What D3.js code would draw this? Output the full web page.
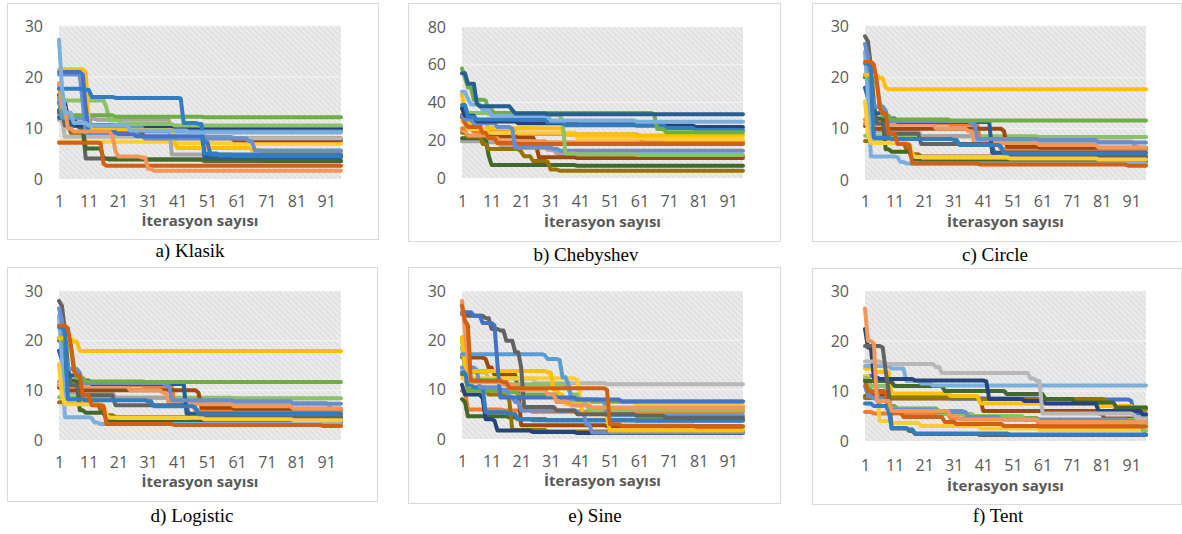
<!DOCTYPE html>
<html>
<head>
<meta charset="utf-8">
<script src="https://cdn.jsdelivr.net/npm/d3@7"></script>
<style>
  html, body { margin: 0; padding: 0; background: #ffffff; }
  svg { display: block; }
</style>
</head>
<body>
<svg id="chart" width="1182" height="534"></svg>
<script>
// ---------------- DATA ----------------
const iterations = d3.range(1, 97);            // iterations 1..96
const xTickLabels = [1, 11, 21, 31, 41, 51, 61, 71, 81, 91];
const yTicksSmall = [0, 10, 20, 30];
const yTicksCheb = [0, 20, 40, 60, 80];
const captions = ["a) Klasik", "b) Chebyshev", "c) Circle", "d) Logistic", "e) Sine", "f) Tent"];
const xTitle = "İterasyon sayısı";

// Each series: list of [iteration, best value from that iteration on]
const klasikSeries = [
  [[1,7.3],[40,7],[60,6.9]],
  [[1,13.5],[3,11],[5,9],[10,8.5],[30,8.2],[60,8]],
  [[1,15],[2,13],[3,10.5],[10,9],[30,8],[60,7.6]],
  [[1,12.5],[3,11.8],[14,11.6],[39,4.8],[60,4.5]],
  [[1,11.5],[3,8.3],[30,8]],
  [[1,13],[3,10.5],[8,10],[10,4],[30,3.8],[50,3.5]],
  [[1,13.5],[4,11],[9,10],[10,6],[16,4],[18,3.8],[70,3.6]],
  [[1,12],[5,10.5],[25,9.8],[48,9.5],[50,4.3]],
  [[1,16.5],[2,15],[4,12],[7,10.5],[20,10.2],[40,9.9]],
  [[1,16],[2,12],[12,10],[30,9.3]],
  [[1,18],[2,16],[3,15.4],[17,14],[18,11.5],[22,10.8],[40,10.5]],
  [[1,18.5],[2,14],[3,12.5],[20,12.2],[50,12.1]],
  [[1,21.5],[10,21],[11,11],[12,9.6],[40,7],[41,6.1],[66,5.7],[70,5.2]],
  [[1,20.5],[8,20.3],[9,15],[10,9],[28,8.5],[30,8],[65,7.4],[67,5.6]],
  [[1,21],[9,20.5],[10,14],[11,9.2],[21,8.8],[27,8.4],[50,7.2],[52,4.8]],
  [[1,7.1],[15,7],[16,3],[17,2.6]],
  [[1,18.8],[2,14],[4,9.9],[6,9.3],[19,8.5],[20,5.5],[21,4.4],[29,4.2],[31,2],[33,1.6]],
  [[1,17.7],[10,17.5],[12,16.1],[20,15.9],[42,15.8],[43,11],[48,10.8],[50,5],[55,4.6],[60,4.5]],
  [[1,27.3],[2,18],[3,13],[6,11],[11,10.5],[25,9.5],[45,9.1]]
];
const chebyshevSeries = [
  [[1,19.5],[10,19],[14,17.5],[30,15],[33,13],[36,11.3]],
  [[1,21],[9,20.8],[10,12],[11,6.9],[40,6.5]],
  [[1,24],[3,22],[8,18],[10,15.3],[21,14],[22,11.5],[25,9],[30,8.5],[31,4.5],[34,3.9]],
  [[1,32],[3,28],[8,24],[11,22],[20,21.5],[26,18],[27,11],[40,10.6]],
  [[1,25],[3,22.5],[10,21],[14,19.5],[30,19]],
  [[1,26.3],[5,24.5],[20,23.5],[37,23],[61,22.5],[62,18.5]],
  [[1,30],[3,26],[10,24],[40,21],[70,20.5]],
  [[1,44],[2,36],[3,29],[10,26.3],[35,25.8],[36,23],[60,22.5]],
  [[1,33.4],[2,29],[3,27],[8,24],[10,21],[13,18.5],[20,18]],
  [[1,33],[2,31],[5,29],[13,27],[18,26],[19,16],[32,15.5],[34,14.5]],
  [[1,37],[3,34.5],[10,34],[30,33.5],[35,30],[36,13],[40,12.5],[60,12.2]],
  [[1,37],[2,33],[6,30],[20,29],[40,28.5],[60,27.8],[80,27]],
  [[1,38.7],[3,32.5],[6,31],[30,29.5],[36,28],[70,26.5],[80,25.4]],
  [[1,58],[2,53],[3,48],[5,41.5],[9,41],[10,36],[12,34.5],[66,33.5],[67,26],[70,24.3]],
  [[1,45.7],[3,42],[4,39],[8,36],[11,33],[31,30.5],[60,29.8]],
  [[1,55.5],[3,50],[6,39.5],[7,38],[18,36],[19,34.2],[30,33.8]]
];
const circleSeries = [
  [[1,8.6],[20,8.5],[60,8.4]],
  [[1,11],[3,9.5],[20,8.5],[40,7.5],[92,7],[93,6]],
  [[1,11.8],[10,11],[30,10.8],[40,7],[47,6]],
  [[1,10.5],[3,10],[48,9.5],[49,6.5],[60,6.3]],
  [[1,11],[5,10.8],[25,10],[36,9.5],[38,7.2],[60,6.8],[80,6.3]],
  [[1,7.6],[3,7.3],[15,6],[17,5],[20,4.6]],
  [[1,20],[3,12],[8,6],[10,5.5],[17,4],[20,3.6]],
  [[1,28],[2,27],[3,22],[4,15],[5,11],[8,9],[20,7],[44,6.8],[45,4.5]],
  [[1,18],[2,16],[4,13],[8,12],[12,11.3],[44,5.3]],
  [[1,25],[2,16],[3,4.6],[12,4.4],[13,3.5],[15,3.2]],
  [[1,26.5],[2,24],[3,18],[4,14.3],[8,13.5],[9,11.5],[37,11],[39,8],[60,7.8],[80,7.3]],
  [[1,20.5],[3,19],[6,15],[7,12.5],[10,11.8],[30,11.6]],
  [[1,15.3],[2,9],[3,7.2],[16,7],[17,5],[18,4.5],[50,4.2],[80,4]],
  [[1,20.5],[6,19.8],[8,18],[9,17.7]],
  [[1,22.7],[3,22],[4,8.2],[10,8],[31,7.8],[33,6.8],[47,6.5],[48,5.2]],
  [[1,23],[4,22.5],[5,19],[6,14],[7,13],[9,9],[12,7],[16,6.8],[17,3.2],[40,3],[90,2.8]]
];
// the Logistic panel shows practically the same curves as the Circle panel
const logisticSeries = [
  [[1,8.6],[20,8.5],[60,8.4]],
  [[1,11],[3,9.5],[20,8.5],[40,7.5],[92,7],[93,6]],
  [[1,11.8],[10,11],[30,10.8],[40,7],[47,6]],
  [[1,10.5],[3,10],[48,9.5],[49,6.5],[60,6.3]],
  [[1,11],[5,10.8],[25,10],[36,9.5],[38,7.2],[60,6.8],[80,6.3]],
  [[1,7.6],[3,7.3],[15,6],[17,5],[20,4.6]],
  [[1,20],[3,12],[8,6],[10,5.5],[17,4],[20,3.6]],
  [[1,28],[2,27],[3,22],[4,15],[5,11],[8,9],[20,7],[44,6.8],[45,4.5]],
  [[1,18],[2,16],[4,13],[8,12],[12,11.3],[44,5.3]],
  [[1,25],[2,16],[3,4.6],[12,4.4],[13,3.5],[15,3.2]],
  [[1,26.5],[2,24],[3,18],[4,14.3],[8,13.5],[9,11.5],[37,11],[39,8],[60,7.8],[80,7.3]],
  [[1,20.5],[3,19],[6,15],[7,12.5],[10,11.8],[30,11.7]],
  [[1,15.3],[2,9],[3,7.2],[16,7],[17,5],[18,4.5],[50,4.2],[80,4]],
  [[1,20.5],[6,19.8],[8,18],[9,17.9]],
  [[1,22.7],[3,22],[4,8.2],[10,8],[31,7.8],[33,6.8],[47,6.5],[48,5.2]],
  [[1,23],[4,22.5],[5,19],[6,14],[7,13],[9,9],[12,7],[16,6.8],[17,3.2],[40,3],[90,2.8]]
];
const sineSeries = [
  [[1,9.8],[3,6],[15,5.8],[25,5.5]],
  [[1,8.1],[2,7.5],[3,4.6],[17,4.4],[20,4],[30,3.8]],
  [[1,13],[3,10],[10,9],[17,7.8],[18,1.8],[30,1.5]],
  [[1,11],[2,9],[8,8.2],[9,4],[12,3.7],[13,1.7],[25,1.4],[40,1.2]],
  [[1,16.5],[9,16.2],[10,14.5],[12,13],[20,10],[21,2.8],[50,2.6]],
  [[1,14],[5,13.5],[10,12.2],[26,11.3],[50,11.1]],
  [[1,12.3],[40,12],[41,8.5],[42,7.5],[60,6.8]],
  [[1,20.6],[2,15],[3,9.8],[15,9.5],[20,9],[35,8],[45,7.6]],
  [[1,18.6],[2,14],[3,12],[15,11.1],[37,10],[38,9],[41,7.1],[44,5.9]],
  [[1,13.5],[3,11],[5,10.5],[9,5.4],[17,5],[20,4],[25,3.8],[60,3.7]],
  [[1,14.5],[6,14],[7,10.5],[14,10],[17,8.5],[19,7.5],[21,5.8],[40,5.5],[43,3],[45,1.3]],
  [[1,20.6],[2,15],[3,13.8],[30,13.5],[32,10],[34,9],[36,7.1],[42,5],[50,4.5],[51,1.7]],
  [[1,17.2],[29,17],[30,16.2],[34,16],[35,12.5],[37,11],[38,8],[48,7.8],[50,4.8]],
  [[1,25.3],[3,25],[9,24.5],[11,22.3],[14,22],[16,19.9],[19,17.6],[21,14.5],[22,6.5],[33,5.8],[40,5],[60,4.7],[70,4.3]],
  [[1,25.7],[5,25],[8,23.5],[12,23],[13,15],[14,8.4],[40,8],[55,7.6]],
  [[1,28],[2,22],[3,16],[4,11.5],[15,11],[20,10],[30,9],[33,7.5],[38,6.8],[45,6.4]],
  [[1,27],[2,24],[3,23],[4,11.8],[15,11.5],[17,10.3],[50,10],[51,3],[55,2.7],[80,2.5]]
];
const tentSeries = [
  [[1,5.8],[4,5.5],[30,4.5],[60,3]],
  [[1,9],[10,8.5],[40,8.2],[41,6],[80,5.5],[82,4.5]],
  [[1,13],[5,10],[10,9],[30,8.5],[60,8.3],[91,8],[92,5.5]],
  [[1,8.6],[40,8.4],[82,8.3],[83,7],[86,6.3]],
  [[1,14.5],[4,13.8],[10,9.5],[30,9],[40,7.5],[80,7],[92,6.7]],
  [[1,13],[3,10],[6,4],[10,3.6],[20,3],[40,2.5],[60,2.2]],
  [[1,12.5],[3,10],[6,7],[12,6.5],[26,6],[35,5],[42,4.6],[60,4],[90,3.7]],
  [[1,12.5],[3,11],[9,6.4],[25,6],[26,5.4],[38,5],[55,4.2],[95,2]],
  [[1,11],[2,9],[4,8.5],[9,6.3],[25,5.8],[36,4.8],[47,4.3],[90,4]],
  [[1,12],[2,10],[3,9.8],[9,6],[10,5.7],[14,4.8],[28,3.8],[32,3.4],[48,3],[60,2.9]],
  [[1,12],[9,11.8],[11,11],[28,10],[49,9.4],[62,8.4],[72,7.7],[86,6.7]],
  [[1,15],[10,14.5],[15,12],[20,11.5],[24,11.1]],
  [[1,22.4],[2,18.7],[4,12.7],[6,12.4],[18,12.1],[42,11.9],[43,8.4],[55,8],[62,7.5],[80,6],[95,5.2]],
  [[1,15.9],[7,15.4],[25,14.8],[27,13.6],[57,12.5],[59,12],[61,5.5],[92,5.2],[93,4.5]],
  [[1,19],[7,18.7],[8,14],[9,10],[10,2.5],[16,2],[18,1.4],[40,1.2]],
  [[1,7.5],[4,7],[9,6],[10,2.6],[16,2.3],[18,1.5],[50,1.3]],
  [[1,26.5],[2,20],[4,19.5],[5,8],[10,6],[30,5],[33,4.3],[60,3.8]]
];

// ---------------- STYLES ----------------
const klasikColors = ["#FFCD33","#997300","#9E480E","#A5A5A5","#B7B7B7","#636363","#43682B","#255E91","#264478","#5B9BD5","#8CC168","#70AD47","#FFC000","#698ED0","#4472C4","#D26012","#F1975A","#327DC2","#7CAFDD"];
const chebyshevColors = ["#A5A5A5","#43682B","#997300","#9E480E","#F1975A","#ED7D31","#FFCD33","#FFC000","#D26012","#698ED0","#8CC168","#264478","#327DC2","#70AD47","#7CAFDD","#255E91"];
const circleColors = ["#8CC168","#A5A5A5","#ED7D31","#9E480E","#F1975A","#997300","#43682B","#636363","#255E91","#7CAFDD","#698ED0","#70AD47","#FFCD33","#FFC000","#327DC2","#D26012"];
const sineColors = ["#ED7D31","#43682B","#997300","#264478","#9E480E","#B7B7B7","#FFCD33","#70AD47","#8CC168","#327DC2","#698ED0","#FFC000","#5B9BD5","#636363","#4472C4","#F1975A","#D26012"];
const tentColors = ["#ED7D31","#9E480E","#4472C4","#997300","#FFC000","#FFCD33","#70AD47","#8CC168","#698ED0","#D26012","#43682B","#7CAFDD","#264478","#B7B7B7","#636363","#327DC2","#F1975A"];

const panels = [
  { series: klasikSeries,    colors: klasikColors,    yTicks: yTicksSmall, box: [7, 3, 378, 239],    plot: [59, 26, 341, 179],   cap: [190, 257], labDy: 28, titleDy: 47 },
  { series: chebyshevSeries, colors: chebyshevColors, yTicks: yTicksCheb,  box: [408, 3, 780, 241],  plot: [462, 27, 743, 178],  cap: [586, 261], labDy: 29, titleDy: 49 },
  { series: circleSeries,    colors: circleColors,    yTicks: yTicksSmall, box: [812, 3, 1181, 241], plot: [865, 26, 1146, 180], cap: [995, 261], labDy: 27, titleDy: 47 },
  { series: logisticSeries,  colors: circleColors,    yTicks: yTicksSmall, box: [7, 267, 377, 501],  plot: [59, 291, 341, 440], cap: [192, 522], labDy: 28, titleDy: 47 },
  { series: sineSeries,      colors: sineColors,      yTicks: yTicksSmall, box: [408, 267, 780, 503],plot: [462, 291, 743, 439], cap: [595, 522], labDy: 28, titleDy: 47 },
  { series: tentSeries,      colors: tentColors,      yTicks: yTicksSmall, box: [812, 268, 1181, 504],plot: [865, 291, 1146, 441],cap: [998, 522], labDy: 30, titleDy: 50 }
];

// expand the step readings to one value per iteration
function expand(steps) {
  return iterations.map(it => {
    let v = steps[0][1];
    for (const s of steps) { if (s[0] <= it) v = s[1]; }
    return { it, v };
  });
}

const svg = d3.select("#chart");
const defs = svg.append("defs");
const pat = defs.append("pattern")
  .attr("id", "hatch").attr("patternUnits", "userSpaceOnUse")
  .attr("width", 4).attr("height", 4)
  .attr("patternTransform", "rotate(-45)");
pat.append("rect").attr("width", 4).attr("height", 4).attr("fill", "#e1e1e1");
pat.append("rect").attr("x", 0).attr("width", 1.6).attr("height", 4).attr("fill", "#eeeeee");

const tickFont = "'Open Sans', 'DejaVu Sans', sans-serif";

panels.forEach((p, i) => {
  const [bx0, by0, bx1, by1] = p.box;
  const [px0, py0, px1, py1] = p.plot;
  const g = svg.append("g");

  g.append("rect")
    .attr("x", bx0 + 0.5).attr("y", by0 + 0.5)
    .attr("width", bx1 - bx0).attr("height", by1 - by0)
    .attr("fill", "#ffffff").attr("stroke", "#d9d9d9").attr("stroke-width", 1);

  const x = d3.scalePoint().domain(iterations).range([px0, px1]);
  const ymax = d3.max(p.yTicks);
  const y = d3.scaleLinear().domain([0, ymax]).range([py1, py0]);

  g.append("rect")
    .attr("x", px0).attr("y", py0)
    .attr("width", px1 - px0).attr("height", py1 - py0)
    .attr("fill", "url(#hatch)");

  // gridlines
  g.append("g").selectAll("line")
    .data(p.yTicks.filter(t => t > 0))
    .join("line")
    .attr("x1", px0).attr("x2", px1)
    .attr("y1", d => y(d)).attr("y2", d => y(d))
    .attr("stroke", "#f4f4f4").attr("stroke-width", 1);

  // lines
  const line = d3.line().x(d => x(d.it)).y(d => y(d.v));
  g.append("g").selectAll("path")
    .data(p.series)
    .join("path")
    .attr("d", s => line(expand(s)))
    .attr("fill", "none")
    .attr("stroke", (s, k) => p.colors[k % p.colors.length])
    .attr("stroke-width", 4)
    .attr("stroke-linejoin", "round")
    .attr("stroke-linecap", "round");

  // y axis
  const ya = g.append("g")
    .attr("transform", `translate(${px0},0)`)
    .call(d3.axisLeft(y).tickValues(p.yTicks).tickSize(0).tickPadding(16));
  ya.select(".domain").remove();
  ya.selectAll("text")
    .attr("font-family", tickFont).attr("font-size", 16).attr("fill", "#595959");

  // x axis
  const xa = g.append("g")
    .attr("transform", `translate(0,${py1})`)
    .call(d3.axisBottom(x).tickValues(xTickLabels).tickSize(0).tickPadding(0));
  xa.select(".domain").remove();
  xa.selectAll("text")
    .attr("dy", null).attr("y", p.labDy)
    .attr("font-family", tickFont).attr("font-size", 16).attr("fill", "#595959");

  // axis title
  g.append("text")
    .attr("x", (px0 + px1) / 2).attr("y", py1 + p.titleDy)
    .attr("text-anchor", "middle")
    .attr("font-family", tickFont).attr("font-size", 15).attr("font-weight", "bold")
    .attr("fill", "#595959")
    .text(xTitle);

  // caption
  svg.append("text")
    .attr("x", p.cap[0]).attr("y", p.cap[1])
    .attr("text-anchor", "middle")
    .attr("font-family", "'Liberation Serif', 'Times New Roman', serif")
    .attr("font-size", 19).attr("fill", "#000000")
    .text(captions[i]);
});
</script>
</body>
</html>
